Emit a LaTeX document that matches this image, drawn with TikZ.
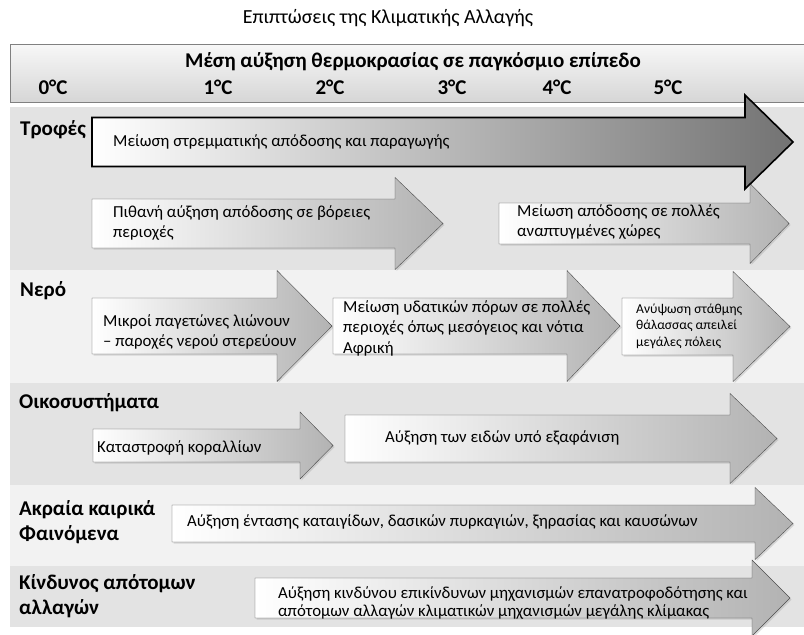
\documentclass[tikz,border=0pt]{standalone}
\usepackage{fontspec}
\setmainfont{Carlito}
\usetikzlibrary{shadows}
\definecolor{bandlight}{gray}{0.95}
\definecolor{banddark}{gray}{0.89}
\definecolor{edgegray}{gray}{0.3}
% block arrow: [style] left, head start, tip, centre y, body half, head half
\newcommand{\rarrow}[7][arr]{%
  \draw[#1] (#2,#5-#6) -- (#3,#5-#6) -- (#3,#5-#7) -- (#4,#5)
    -- (#3,#5+#7) -- (#3,#5+#6) -- (#2,#5+#6) -- cycle;}

\begin{document}
\begin{tikzpicture}[x=1pt,y=-1pt]
\tikzstyle{every node}=[font=\fontsize{16.8}{20.5}\selectfont, inner sep=0pt]
\tikzstyle{arr}=[draw=edgegray, left color=white, right color=black!30,
  drop shadow={opacity=0.25, shadow xshift=1.5pt, shadow yshift=-1.5pt}]
\tikzstyle{bigarr}=[draw=black, line width=1.6pt, left color=white, right color=black!55]
\tikzstyle{lbl}=[anchor=west, align=left, font=\fontsize{21}{24.5}\selectfont\bfseries]
\tikzstyle{txt}=[anchor=west, align=left]
\tikzstyle{temp}=[font=\fontsize{21}{24}\selectfont\bfseries]
\useasboundingbox (0,0) rectangle (804,635);

% title and temperature scale
    \node (title) at (388,18) {\fontsize{20}{22}\selectfont Επιπτώσεις της Κλιματικής Αλλαγής};
    \draw[draw=black!50, top color=black!3, bottom color=black!16] (10,44) rectangle (806,102);
    \node[temp] (hdr) at (413,62) {Μέση αύξηση θερμοκρασίας σε παγκόσμιο επίπεδο};
    \foreach \t/\x in {0/53,1/218,2/330,3/452,4/557,5/668}
      \node[temp] (t\t) at (\x,87) {\t°C};

% row bands
    \fill[banddark] (10,107) rectangle (806,270);
    \fill[bandlight] (10,270) rectangle (806,383);
    \fill[banddark] (10,383) rectangle (806,485);
    \fill[bandlight] (10,485) rectangle (806,566);
    \fill[banddark] (10,566) rectangle (806,627);

% food
    \node[lbl] (lblfood) at (20,130) {Τροφές};
    \rarrow{92}{395}{443}{223.5}{24.5}{46}
    \rarrow{499}{750}{789}{223.5}{20.5}{40}
    \rarrow[bigarr]{92}{745}{793}{142}{24.5}{47}
    \node[txt] (food1) at (113,142) {Μείωση στρεμματικής απόδοσης και παραγωγής};
    \node[txt] (food2) at (113,223) {Πιθανή αύξηση απόδοσης σε βόρειες\\περιοχές};
    \node[txt] (food3) at (517,222) {Μείωση απόδοσης σε πολλές\\αναπτυγμένες χώρες};

% water
    \node[lbl] (lblwater) at (20,291) {Νερό};
    \rarrow{92}{277}{332}{326}{28}{55.5}
    \rarrow{333}{567}{620}{326}{28}{55.5}
    \rarrow{622}{733}{790}{326.5}{28.5}{55}
    \node[txt] (water1) at (103,332) {Μικροί παγετώνες λιώνουν\\– παροχές νερού στερεύουν};
    \node[txt] (water2) at (343,328) {Μείωση υδατικών πόρων σε πολλές\\περιοχές όπως μεσόγειος και νότια\\Αφρική};
    \node[txt, font=\fontsize{13.6}{16.5}\selectfont] (water3) at (636,326) {Ανύψωση στάθμης\\θάλασσας απειλεί\\μεγάλες πόλεις};

% ecosystems
    \node[lbl] (lbleco) at (19,403) {Οικοσυστήματα};
    \rarrow{93}{300}{333}{445.5}{16.5}{33.5}
    \rarrow{345}{730}{777}{438.5}{23.5}{45}
    \node[txt] (eco1) at (97,448) {Καταστροφή κοραλλίων};
    \node[txt] (eco2) at (385,438) {Αύξηση των ειδών υπό εξαφάνιση};

% extreme weather
    \node[lbl] (lblext) at (19,522) {Ακραία καιρικά\\Φαινόμενα};
    \rarrow{172}{755}{793}{523.5}{18.5}{36}
    \node[txt] (ext1) at (187,522) {Αύξηση έντασης καταιγίδων, δασικών πυρκαγιών, ξηρασίας και καυσώνων};

% abrupt change
    \node[lbl] (lblrisk) at (19,596) {Κίνδυνος απότομων\\αλλαγών};
    \rarrow{255}{752}{790}{598}{20}{38}
    \node[txt, font=\fontsize{16.8}{18}\selectfont] (risk1) at (278,603) {Αύξηση κινδύνου επικίνδυνων μηχανισμών επανατροφοδότησης και\\απότομων αλλαγών κλιματικών μηχανισμών μεγάλης κλίμακας};
\end{tikzpicture}
\end{document}
